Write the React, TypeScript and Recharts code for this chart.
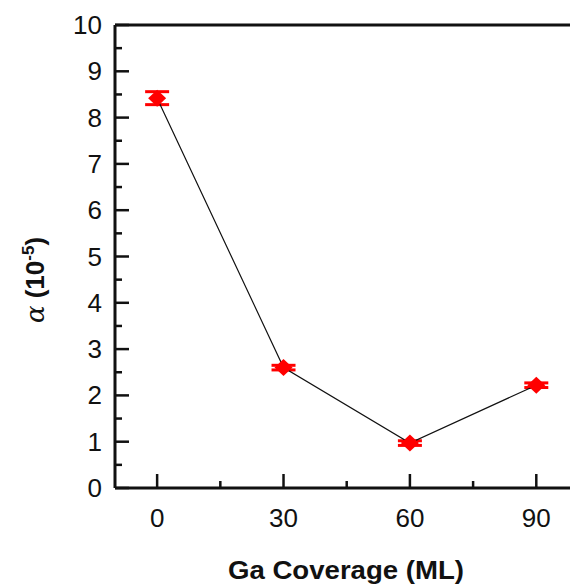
import { ErrorBar, Label, Line, LineChart, ReferenceLine, XAxis, YAxis } from "recharts";

const coverage = [0, 30, 60, 90];
const alpha = [8.42, 2.6, 0.97, 2.22];
const alphaErr = [0.14, 0.05, 0.05, 0.05];

const xTicks = [0, 15, 30, 45, 60, 75, 90];
const xLabelled = [0, 30, 60, 90];
const yTicks = [0, 0.5, 1, 1.5, 2, 2.5, 3, 3.5, 4, 4.5, 5, 5.5, 6, 6.5, 7, 7.5, 8, 8.5, 9, 9.5, 10];

const data = coverage.map((c, i) => ({ coverage: c, alpha: alpha[i], err: alphaErr[i] }));

const font = "'Liberation Sans', Arial, sans-serif";
const GAP_Y = 13;
const GAP_X = 20;

function YTick(props: any) {
  const { x, y, payload } = props;
  const v = payload.value;
  const major = Number.isInteger(v);
  const ax = x + GAP_Y;
  return (
    <g>
      <line x1={ax} x2={ax + (major ? 14 : 7)} y1={y} y2={y} stroke="#111" strokeWidth={2.5} />
      {major && (
        <text x={x} y={y} dy={9} textAnchor="end" fontFamily={font} fontSize={26} fill="#111">{v}</text>
      )}
    </g>
  );
}

function XTick(props: any) {
  const { x, y, payload } = props;
  const v = payload.value;
  const major = xLabelled.includes(v);
  const ay = y - GAP_X;
  return (
    <g>
      <line x1={x} x2={x} y1={ay} y2={ay - (major ? 14 : 7)} stroke="#111" strokeWidth={2.5} />
      {major && (
        <text x={x} y={y} dy={19} textAnchor="middle" fontFamily={font} fontSize={26} fill="#111">{v}</text>
      )}
    </g>
  );
}

function Diamond(props: any) {
  const { cx, cy } = props;
  if (cx == null || cy == null) return null;
  return (
    <path d={`M${cx - 9},${cy} L${cx},${cy - 8.5} L${cx + 9},${cy} L${cx},${cy + 8.5} Z`} fill="#ff0000" />
  );
}

export default function App() {
  return (
    <div style={{ position: "absolute", left: 0, top: 0 }}>
      <LineChart width={570} height={587} data={data} margin={{ top: 25, right: 0, bottom: 0, left: 0 }}>
        <XAxis dataKey="coverage" type="number" domain={[-10, 98]} ticks={xTicks} interval={0}
          height={99} tickSize={0} tickMargin={GAP_X} tick={<XTick />} tickLine={false}
          axisLine={{ stroke: "#111", strokeWidth: 3 }} allowDataOverflow>
          <Label content={() => (
            <text x={346} y={579} textAnchor="middle" fontFamily={font} fontSize={25} fontWeight="bold" fill="#111"
              textLength={236} lengthAdjust="spacingAndGlyphs">
              Ga Coverage (ML)
            </text>
          )} />
        </XAxis>
        <YAxis type="number" domain={[0, 10]} ticks={yTicks} interval={0} width={115}
          tickSize={0} tickMargin={GAP_Y} tick={<YTick />} tickLine={false}
          axisLine={{ stroke: "#111", strokeWidth: 3 }}>
          <Label content={() => (
            <text transform="translate(44,280) rotate(-90)" textAnchor="middle" fontFamily={font} fontSize={26} fill="#111">
              <tspan fontStyle="italic" fontFamily="'DejaVu Serif', serif">α</tspan>
              <tspan fontWeight="bold"> (10</tspan>
              <tspan fontWeight="bold" fontSize={17} dy={-10}>-5</tspan>
              <tspan fontWeight="bold" dy={10}>)</tspan>
            </text>
          )} />
        </YAxis>
        <ReferenceLine y={10} stroke="#111" strokeWidth={3} />
        <Line dataKey="alpha" stroke="#111" strokeWidth={1.2}
          dot={<Diamond />} activeDot={false} isAnimationActive={false}>
          <ErrorBar dataKey="err" direction="y" width={12} stroke="#ff0000" strokeWidth={3} />
        </Line>
      </LineChart>
    </div>
  );
}
